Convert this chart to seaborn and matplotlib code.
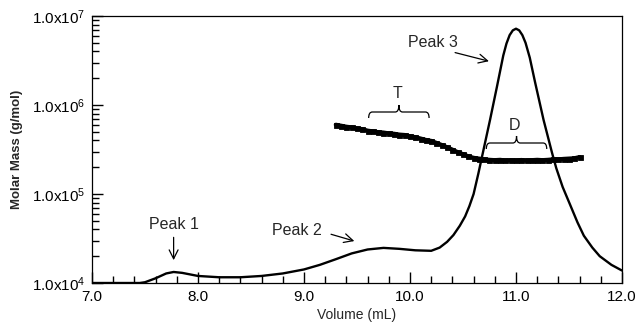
import numpy as np
import pandas as pd
import matplotlib
matplotlib.use("Agg")
import matplotlib.pyplot as plt
import seaborn as sns
from matplotlib.path import Path
from matplotlib.patches import PathPatch
from matplotlib.transforms import blended_transform_factory
from matplotlib.ticker import FixedLocator, MultipleLocator, NullFormatter

# ---- data ----
trace_volume = [7.0, 7.45, 7.5, 7.6, 7.7, 7.77, 7.85, 8.0, 8.2, 8.4, 8.6, 8.8, 9.0,
                9.15, 9.3, 9.45, 9.6, 9.75, 9.9, 10.05, 10.2, 10.28, 10.35, 10.41,
                10.47, 10.52, 10.56, 10.60, 10.645, 10.69, 10.755, 10.82, 10.88,
                10.91, 10.94, 10.97, 11.0, 11.03, 11.06, 11.09, 11.13, 11.18, 11.26,
                11.34, 11.38, 11.44, 11.51, 11.58, 11.64, 11.72, 11.79, 11.9, 12.0]
trace_signal = [1.0e4, 1.0e4, 1.02e4, 1.13e4, 1.28e4, 1.33e4, 1.3e4, 1.2e4, 1.16e4,
                1.16e4, 1.2e4, 1.28e4, 1.42e4, 1.6e4, 1.85e4, 2.15e4, 2.38e4, 2.48e4,
                2.42e4, 2.33e4, 2.3e4, 2.5e4, 2.9e4, 3.46e4, 4.4e4, 5.6e4, 7.3e4,
                1.0e5, 1.7e5, 3.0e5, 6.8e5, 1.6e6, 3.6e6, 4.9e6, 6.1e6, 6.9e6, 7.2e6,
                6.9e6, 6.1e6, 5.0e6, 3.4e6, 1.8e6, 6.8e5, 2.9e5, 1.95e5, 1.2e5, 7.6e4,
                4.8e4, 3.4e4, 2.5e4, 2.0e4, 1.6e4, 1.38e4]

mass_volume = [9.30, 9.35, 9.40, 9.45, 9.50, 9.55, 9.60, 9.65, 9.70, 9.75, 9.80, 9.85,
               9.90, 9.95, 10.00, 10.05, 10.10, 10.15, 10.20, 10.25, 10.30, 10.35,
               10.40, 10.45, 10.50, 10.55, 10.60, 10.65, 10.70, 10.75, 10.80, 10.85,
               10.90, 10.95, 11.00, 11.05, 11.10, 11.15, 11.20, 11.25, 11.30, 11.35,
               11.40, 11.45, 11.50, 11.55, 11.60]
mass_values = [6.0e5, 5.85e5, 5.7e5, 5.6e5, 5.45e5, 5.35e5, 5.15e5, 5.05e5, 4.95e5,
               4.9e5, 4.8e5, 4.75e5, 4.65e5, 4.6e5, 4.45e5, 4.35e5, 4.2e5, 4.05e5,
               3.95e5, 3.75e5, 3.55e5, 3.35e5, 3.15e5, 2.95e5, 2.8e5, 2.65e5, 2.55e5,
               2.5e5, 2.45e5, 2.42e5, 2.4e5, 2.42e5, 2.38e5, 2.4e5, 2.38e5, 2.41e5,
               2.38e5, 2.4e5, 2.42e5, 2.4e5, 2.42e5, 2.45e5, 2.45e5, 2.48e5, 2.5e5,
               2.52e5, 2.6e5]

x_ticks = [7.0, 8.0, 9.0, 10.0, 11.0, 12.0]
x_tick_labels = ["7.0", "8.0", "9.0", "10.0", "11.0", "12.0"]
y_ticks = [1e4, 1e5, 1e6, 1e7]
y_tick_labels = [r"1.0x10$^{4}$", r"1.0x10$^{5}$", r"1.0x10$^{6}$", r"1.0x10$^{7}$"]

# ---- style ----
sns.set_style("ticks")
plt.rcParams["font.family"] = ["Liberation Sans", "DejaVu Sans"]
plt.rcParams["mathtext.fontset"] = "custom"
plt.rcParams["mathtext.rm"] = "Liberation Sans"
plt.rcParams["mathtext.it"] = "Liberation Sans:italic"
plt.rcParams["mathtext.bf"] = "Liberation Sans:bold"

fig = plt.figure(figsize=(6.36, 3.31), dpi=100)
ax = fig.add_axes([92 / 636, 48 / 331, 530 / 636, 267 / 331])

trace_df = pd.DataFrame({"volume": trace_volume, "signal": trace_signal})
mass_df = pd.DataFrame({"volume": mass_volume, "mass": mass_values})

sns.lineplot(data=trace_df, x="volume", y="signal", color="black", linewidth=1.7,
             ax=ax, sort=False)
sns.lineplot(data=mass_df, x="volume", y="mass", color="black", linewidth=3.0,
             marker="s", markersize=3.6, markeredgewidth=0.6,
             markeredgecolor="black", markerfacecolor="black", ax=ax, sort=False)

ax.set_yscale("log")
ax.set_xlim(7.0, 12.0)
ax.set_ylim(1e4, 1e7)

ax.xaxis.set_major_locator(FixedLocator(x_ticks))
ax.set_xticklabels(x_tick_labels)
ax.xaxis.set_minor_locator(MultipleLocator(0.2))
ax.yaxis.set_major_locator(FixedLocator(y_ticks))
ax.set_yticklabels(y_tick_labels)
minor_y = [m * 10 ** e for e in (4, 5, 6) for m in range(2, 10)]
ax.yaxis.set_minor_locator(FixedLocator(minor_y))
ax.yaxis.set_minor_formatter(NullFormatter())

ax.tick_params(which="both", direction="in", top=False, right=False, labelsize=11,
               colors="black", pad=5)
ax.tick_params(which="major", length=8, width=1)
ax.tick_params(which="minor", length=5, width=1.0)
ax.tick_params(axis="y", which="minor", left=True)

for sp in ax.spines.values():
    sp.set_visible(True)
    sp.set_color("black")
    sp.set_linewidth(0.9)

ax.set_xlabel("Volume (mL)", fontsize=10, labelpad=3)
ax.set_ylabel("Molar Mass (g/mol)", fontsize=9.5, fontweight="bold", labelpad=6)

# ---- annotations ----
arrow = dict(arrowstyle="->", color="black", lw=0.9, mutation_scale=16)
ax.annotate("", xy=(7.77, 1.68e4), xytext=(7.77, 3.5e4), arrowprops=arrow)
ax.text(7.77, 4.6e4, "Peak 1", ha="center", va="center", fontsize=11.5)
ax.annotate("", xy=(9.50, 2.9e4), xytext=(9.23, 3.6e4), arrowprops=arrow)
ax.text(8.93, 3.9e4, "Peak 2", ha="center", va="center", fontsize=11.5)
ax.annotate("", xy=(10.77, 3.05e6), xytext=(10.40, 3.95e6), arrowprops=arrow)
ax.text(10.22, 5.0e6, "Peak 3", ha="center", va="center", fontsize=11.5)

trans = blended_transform_factory(ax.transData, ax.transAxes)
px = 1.0 / 267.0


def brace(x0, x1, ypix):
    y = (283 - ypix) / 267.0
    down = 6 * px
    up = 7 * px
    xm = 0.5 * (x0 + x1)
    c = 0.06 * (x1 - x0)
    verts = [(x0, y - down), (x0, y), (x0 + c, y),
             (xm - c, y), (xm, y), (xm, y + up),
             (xm, y), (xm + c, y),
             (x1 - c, y), (x1, y), (x1, y - down)]
    codes = [Path.MOVETO, Path.CURVE3, Path.CURVE3,
             Path.LINETO, Path.CURVE3, Path.CURVE3,
             Path.CURVE3, Path.CURVE3,
             Path.LINETO, Path.CURVE3, Path.CURVE3]
    ax.add_patch(PathPatch(Path(verts, codes), facecolor="none", edgecolor="black",
                           lw=0.9, transform=trans))


brace(9.61, 10.18, 112)
ax.text(9.88, (283 - 94) / 267.0, "T", transform=trans, ha="center", va="center",
        fontsize=11.5)
brace(10.72, 11.29, 143)
ax.text(10.99, (283 - 125) / 267.0, "D", transform=trans, ha="center", va="center",
        fontsize=11.5)

fig.savefig("out.png", dpi=100)
